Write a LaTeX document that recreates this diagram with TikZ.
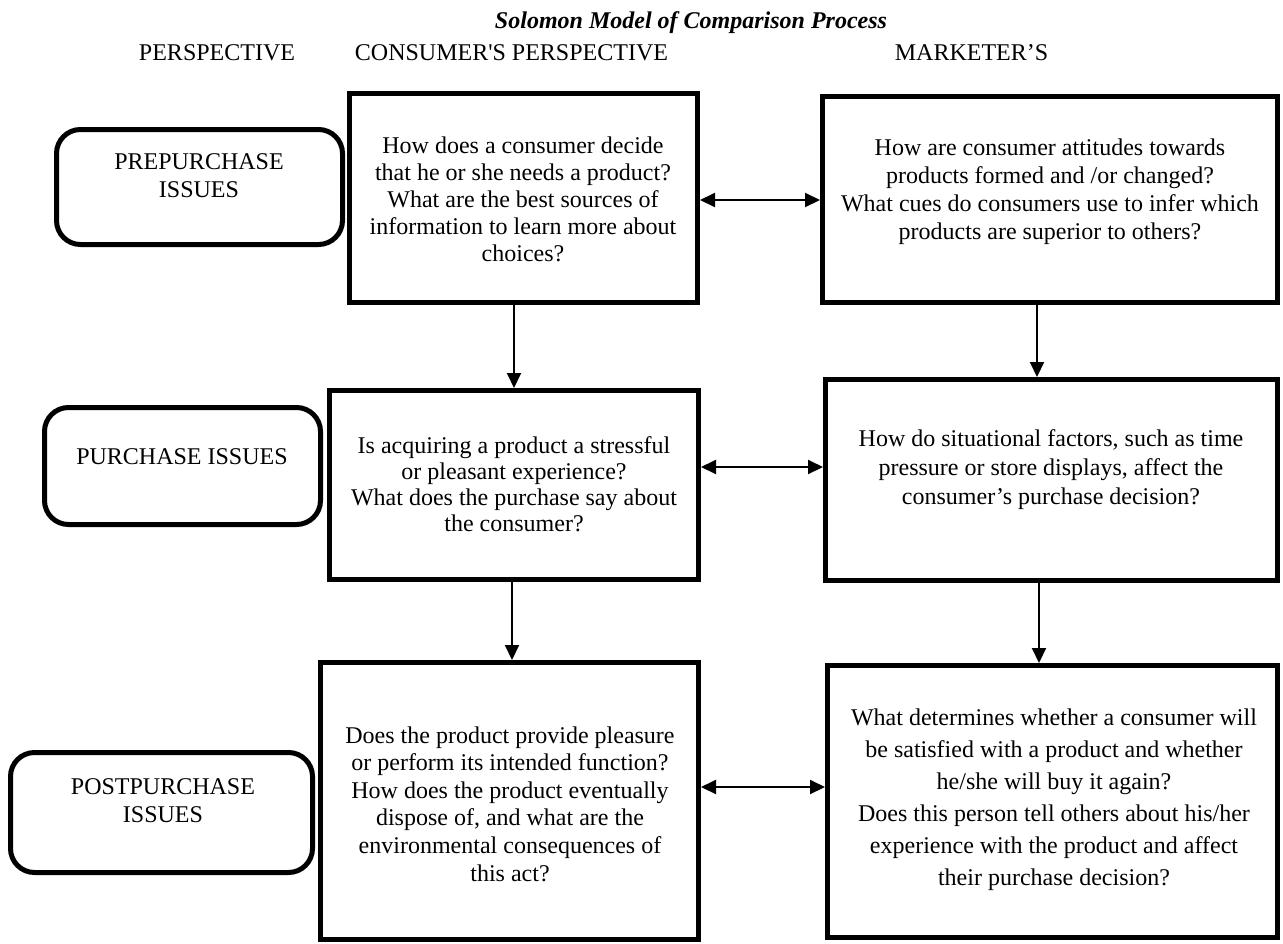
\documentclass[tikz,border=0pt]{standalone}
\usepackage{fontspec}
\setmainfont{Liberation Serif}
\usetikzlibrary{arrows.meta}
\begin{document}
\begin{tikzpicture}[x=1pt,y=-1pt,
  box/.style={draw, line width=5pt, rectangle, inner sep=0pt},
  rbox/.style={draw, line width=5pt, rectangle, rounded corners=24pt, inner sep=0pt},
  txt/.style={align=center, inner sep=0pt, font=\fontsize{24}{#1}\selectfont},
  txt/.default=28,
  arr/.style={line width=2pt, -{Triangle[length=15pt,width=14pt]}},
  darr/.style={line width=2pt, {Triangle[length=15pt,width=14pt]}-{Triangle[length=15pt,width=14pt]}},
]
\useasboundingbox (0,0) rectangle (1283,943);

% title and headers
\node[txt, font=\fontsize{24}{28}\selectfont\bfseries\itshape] (title) at (691,23) {Solomon Model of Comparison Process};
\node[txt] (h1) at (217,53) {PERSPECTIVE};
\node[txt] (h2) at (511.5,53) {CONSUMER\textquotesingle S PERSPECTIVE};
\node[txt] (h3) at (971.5,53) {MARKETER’S};

% left rounded boxes
\node[rbox, minimum width=286pt, minimum height=115pt] (R1) at (199.5,187) {};
\node[rbox, minimum width=276pt, minimum height=117pt] (R2) at (182.5,466) {};
\node[rbox, minimum width=302pt, minimum height=120pt] (R3) at (161.5,812.5) {};
\node[txt] (R1t) at (199,176) {PREPURCHASE\\ISSUES};
\node[txt] (R2t) at (182,457) {PURCHASE ISSUES};
\node[txt] (R3t) at (163,801) {POSTPURCHASE\\ISSUES};

% boxes
\node[box, minimum width=348pt, minimum height=209pt] (A) at (523.5,198) {};
\node[box, minimum width=455pt, minimum height=206pt] (B) at (1050,199.5) {};
\node[box, minimum width=369pt, minimum height=189pt] (C) at (514,485) {};
\node[box, minimum width=452pt, minimum height=201pt] (D) at (1051.5,480) {};
\node[box, minimum width=378pt, minimum height=277pt] (E) at (509.5,801) {};
\node[box, minimum width=450pt, minimum height=272pt] (F) at (1052.5,801.5) {};

\node[txt=27] (At) at (523,199) {How does a consumer decide\\that he or she needs a product?\\What are the best sources of\\information to learn more about\\choices?};
\node[txt=28] (Bt) at (1050,192) {How are consumer attitudes towards\\products formed and /or changed?\\What cues do consumers use to infer which\\products are superior to others?};
\node[txt=26] (Ct) at (514,484) {Is acquiring a product a stressful\\or pleasant experience?\\What does the purchase say about\\the consumer?};
\node[txt=29] (Dt) at (1051,470) {How do situational factors, such as time\\pressure or store displays, affect the\\consumer’s purchase decision?};
\node[txt=27.6] (Et) at (510,804) {Does the product provide pleasure\\or perform its intended function?\\How does the product eventually\\dispose of, and what are the\\environmental consequences of\\this act?};
\node[txt=32] (Ft) at (1054,800) {What determines whether a consumer will\\be satisfied with a product and whether\\he/she will buy it again?\\Does this person tell others about his/her\\experience with the product and affect\\their purchase decision?};

% connector guides
\coordinate (ab) at (760,200);
\coordinate (cd) at (760,467);
\coordinate (ef) at (760,787);
\coordinate (ac) at (514,340);
\coordinate (ce) at (512,620);
\coordinate (bd) at (1037,340);
\coordinate (df) at (1039,620);

\draw[darr] (A.east |- ab) -- (B.west |- ab);
\draw[darr] (C.east |- cd) -- (D.west |- cd);
\draw[darr] (E.east |- ef) -- (F.west |- ef);
\draw[arr] (A.south -| ac) -- (C.north -| ac);
\draw[arr] (C.south -| ce) -- (E.north -| ce);
\draw[arr] (B.south -| bd) -- (D.north -| bd);
\draw[arr] (D.south -| df) -- (F.north -| df);
\end{tikzpicture}
\end{document}
